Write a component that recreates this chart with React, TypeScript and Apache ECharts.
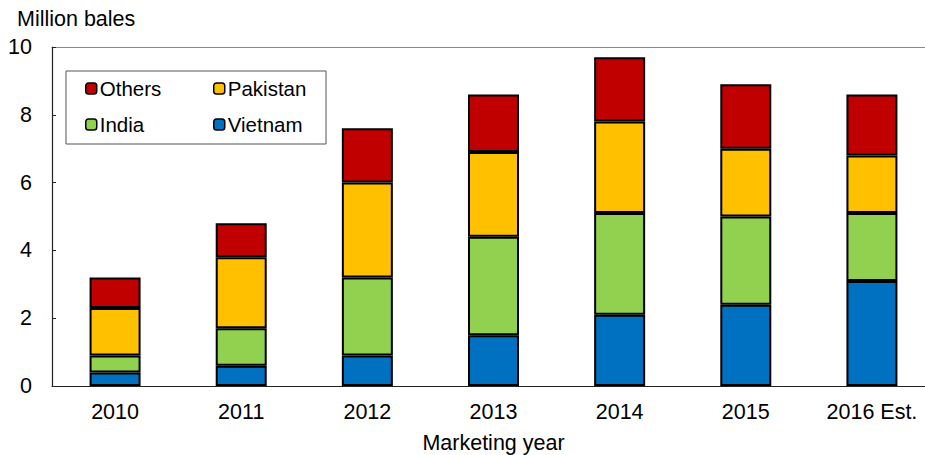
import React, { useEffect, useRef } from "react";
import * as echarts from "echarts";

const categories = ["2010", "2011", "2012", "2013", "2014", "2015", "2016 Est."];
const vietnam = [0.4, 0.6, 0.9, 1.5, 2.1, 2.4, 3.1];
const india = [0.5, 1.1, 2.3, 2.9, 3.0, 2.6, 2.0];
const pakistan = [1.4, 2.1, 2.8, 2.5, 2.7, 2.0, 1.7];
const others = [0.9, 1.0, 1.6, 1.7, 1.9, 1.9, 1.8];
const yTicks = [0, 2, 4, 6, 8, 10];

const FONT = "Liberation Sans, Arial, sans-serif";
const FS = 21.5;

export default function App() {
  const ref = useRef<HTMLDivElement>(null);
  useEffect(() => {
    if (!ref.current) return;
    const chart = echarts.init(ref.current, null, { renderer: "svg" });
    const mk = (name: string, data: number[], color: string) => ({
      name,
      type: "bar",
      stack: "total",
      data,
      barWidth: 51,
      itemStyle: { color, borderColor: "#000", borderWidth: 2 },
      emphasis: { disabled: true },
    });
    const legendItem = (name: string, left: number, top: number) => ({
      data: [name],
      left,
      top,
      padding: 0,
      itemWidth: 11,
      itemHeight: 11,
      itemGap: 0,
      selectedMode: false,
      textStyle: { fontFamily: FONT, fontSize: 20.5, color: "#000", padding: [0, 0, 0, -2] },
      itemStyle: { borderColor: "#000", borderWidth: 1.5 },
    });
    chart.setOption({
      animation: false,
      backgroundColor: "#fff",
      textStyle: { fontFamily: FONT },
      grid: { left: 52, top: 47, width: 883, bottom: 69, containLabel: false, outerBoundsMode: "none" },
      legend: [
        legendItem("Others", 85, 78),
        legendItem("Pakistan", 213, 78),
        legendItem("India", 85, 114),
        legendItem("Vietnam", 213, 114),
      ],
      graphic: [
        {
          type: "rect",
          shape: { x: 66, y: 71, width: 260, height: 73 },
          style: { fill: "none", stroke: "#555", lineWidth: 1 },
          z: 10,
        },
        {
          type: "text",
          left: 17,
          top: 8,
          style: { text: "Million bales", fontFamily: FONT, fontSize: FS, fill: "#000" },
        },
      ],
      xAxis: [
        {
          type: "category",
          data: categories,
          name: "Marketing year",
          nameLocation: "middle",
          nameGap: 46,
          nameTextStyle: { fontFamily: FONT, fontSize: FS, color: "#000" },
          axisLine: { lineStyle: { color: "#222", width: 1.2 } },
          axisTick: { inside: true, length: 6, lineStyle: { color: "#222" } },
          axisLabel: { fontFamily: FONT, fontSize: FS, color: "#000", margin: 15 },
        },
        {
          type: "category",
          data: categories,
          position: "top",
          axisLine: { lineStyle: { color: "#888", width: 1.2 } },
          axisTick: { show: false },
          axisLabel: { show: false },
        },
      ],
      yAxis: {
        type: "value",
        min: yTicks[0],
        max: yTicks[yTicks.length - 1],
        interval: 2,
        axisLine: { show: true, lineStyle: { color: "#222", width: 1.2 } },
        axisTick: { show: true, inside: true, length: 4, lineStyle: { color: "#222" } },
        axisLabel: { fontFamily: FONT, fontSize: FS, color: "#000", margin: 20 },
        splitLine: { show: false },
      },
      series: [
        mk("Vietnam", vietnam, "#0070C0"),
        mk("India", india, "#92D050"),
        mk("Pakistan", pakistan, "#FFC000"),
        mk("Others", others, "#C00000"),
      ],
    });
    return () => chart.dispose();
  }, []);
  return <div ref={ref} style={{ width: 925, height: 455, position: "absolute", left: 0, top: 0 }} />;
}
